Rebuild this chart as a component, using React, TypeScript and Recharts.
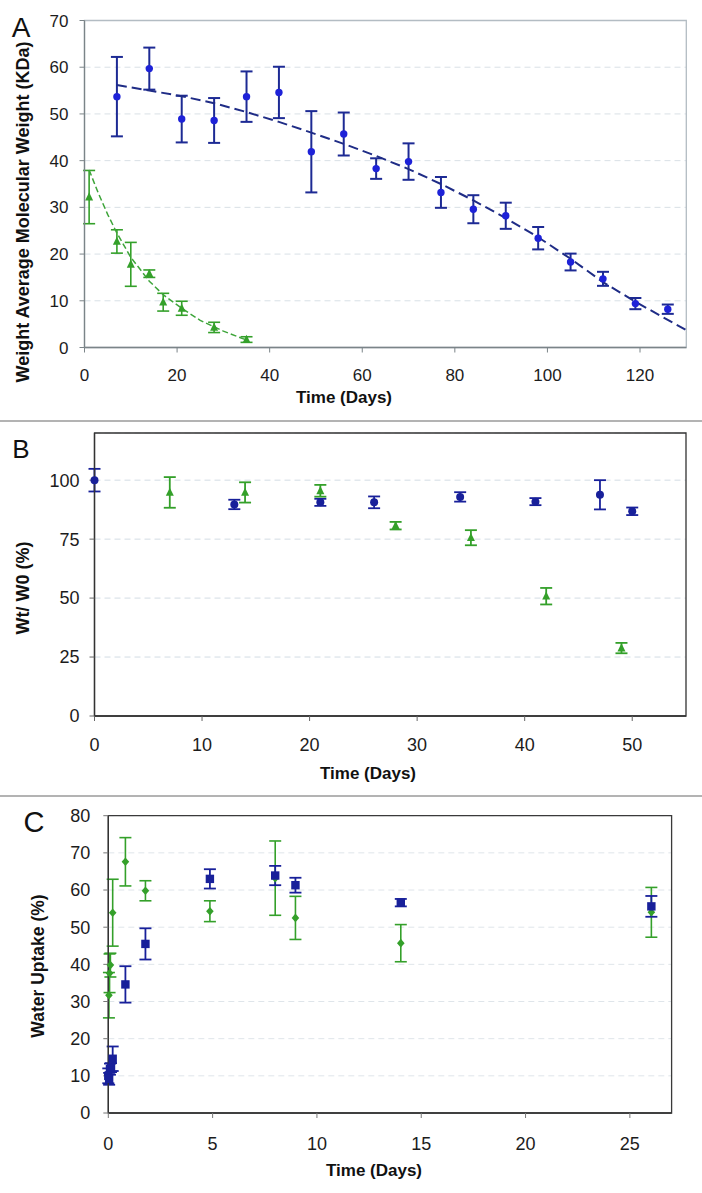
import React from "react";
import {
    ComposedChart,
    Scatter,
    XAxis,
    YAxis,
    CartesianGrid,
    ErrorBar,
    ReferenceArea,
} from "recharts";

// ── Data ─────────────────────────────────────────────────────────────────────

// A: weight average molecular weight (KDa) vs time (days)
const aBlueDays = [7, 14, 21, 28, 35, 42, 49, 56, 63, 70, 77, 84, 91, 98, 105, 112, 119, 126];
const aBlueMw = [53.7, 59.7, 48.9, 48.6, 53.7, 54.6, 41.9, 45.7, 38.3, 39.8, 33.2, 29.6, 28.2, 23.4, 18.3, 14.7, 9.4, 8.2];
const aBlueErr = [8.5, 4.5, 5.0, 4.8, 5.4, 5.5, 8.7, 4.6, 2.2, 3.9, 3.3, 3.0, 2.8, 2.4, 1.8, 1.5, 1.2, 1.0];

const aGreenDays = [1, 7, 10, 14, 17, 21, 28, 35];
const aGreenMw = [32.2, 22.7, 17.8, 15.8, 9.7, 8.4, 4.3, 1.7];
const aGreenErr = [5.7, 2.5, 4.7, 0.8, 1.9, 1.5, 1.1, 0.6];

// dashed trend lines
const aBlueTrendDays = [7, 14, 21, 28, 35, 42, 49, 56, 63, 70, 77, 84, 91, 98, 105, 112, 119, 130];
const aBlueTrendMw = [56.2, 55.0, 53.8, 52.3, 50.4, 48.3, 46.0, 43.6, 41.0, 38.2, 35.0, 31.5, 27.7, 23.6, 19.0, 14.0, 9.8, 3.7];
const aGreenTrendDays = [1, 3, 5, 7, 10, 14, 17, 21, 25, 30, 35];
const aGreenTrendMw = [38.0, 33.0, 28.5, 24.5, 19.3, 14.2, 11.3, 8.4, 5.8, 3.5, 1.6];

// B: Wt / W0 (%) vs time (days)
const bBlueDays = [0, 13, 21, 26, 34, 41, 47, 50];
const bBlueWt = [100, 89.7, 90.6, 90.6, 92.9, 90.9, 93.8, 86.8];
const bBlueErr = [4.8, 2.0, 1.5, 2.5, 2.0, 1.5, 6.2, 1.6];

const bGreenDays = [7, 14, 21, 28, 35, 42, 49];
const bGreenWt = [94.8, 94.8, 95.5, 80.7, 75.6, 50.8, 28.8];
const bGreenErr = [6.5, 4.3, 2.5, 1.6, 3.2, 3.5, 2.2];

// C: water uptake (%) vs time (days)
const cBlueDays = [0, 0.04, 0.08, 0.13, 0.21, 0.82, 1.78, 4.87, 8.0, 8.97, 14.02, 26.03];
const cBlueUptake = [10.0, 9.2, 11.8, 12.2, 14.6, 34.6, 45.5, 63.0, 63.9, 61.3, 56.6, 55.6];
const cBlueErr = [2.0, 1.6, 1.5, 1.2, 3.3, 4.9, 4.2, 2.6, 2.6, 2.0, 1.0, 2.8];

const cGreenDays = [0.03, 0.06, 0.1, 0.21, 0.82, 1.78, 4.87, 8.0, 8.97, 14.02, 26.03];
const cGreenUptake = [31.7, 37.6, 39.8, 53.9, 67.6, 59.8, 54.3, 63.2, 52.5, 45.7, 54.0];
const cGreenErr = [6.1, 5.2, 3.2, 9.0, 6.5, 2.7, 2.8, 10.0, 5.8, 5.0, 6.7];

const aXTicks = [0, 20, 40, 60, 80, 100, 120];
const aYTicks = [0, 10, 20, 30, 40, 50, 60, 70];
const bXTicks = [0, 10, 20, 30, 40, 50];
const bYTicks = [0, 25, 50, 75, 100];
const cXTicks = [0, 5, 10, 15, 20, 25];
const cYTicks = [0, 10, 20, 30, 40, 50, 60, 70, 80];

// ── Helpers ──────────────────────────────────────────────────────────────────

const FONT = "'Liberation Sans', Arial, Helvetica, sans-serif";
const BLUE = "#1e22d8";
const NAVY = "#18209a";
const GREEN = "#34a02a";

function pts(xs: number[], ys: number[], errs?: number[]) {
    return xs.map((x, i) => ({ x, y: ys[i], err: errs ? errs[i] : 0 }));
}

const circle = (fill: string, r: number) => (p: any) => (
    <circle cx={p.cx} cy={p.cy} r={r} fill={fill} />
);
const triangle = (p: any) => (
    <polygon
        points={`${p.cx},${p.cy - 4.8} ${p.cx + 4},${p.cy + 3.4} ${p.cx - 4},${p.cy + 3.4}`}
        fill={GREEN}
    />
);
const square = (p: any) => (
    <rect x={p.cx - 4.2} y={p.cy - 4.2} width={8.4} height={8.4} fill={NAVY} />
);
const diamond = (p: any) => (
    <polygon
        points={`${p.cx},${p.cy - 4.3} ${p.cx + 3.8},${p.cy} ${p.cx},${p.cy + 4.3} ${p.cx - 3.8},${p.cy}`}
        fill={GREEN}
    />
);
const nothing = () => <g />;

const tickStyle = (size: number) => ({ fontSize: size, fill: "#1c1c1c", fontFamily: FONT });

// ── Panels ───────────────────────────────────────────────────────────────────

function PanelA() {
    return (
        <ComposedChart width={702} height={421} margin={{ top: 20.5, right: 15.7, left: 0, bottom: 0 }}>
            <CartesianGrid vertical={false} stroke="#d9e0e6" strokeDasharray="6 4" />
            <ReferenceArea x1={0} x2={130} y1={0} y2={70} fill="none" stroke="#b3bcc3" strokeWidth={1.3} />
            <XAxis
                type="number"
                dataKey="x"
                domain={[0, 130]}
                ticks={aXTicks}
                height={73.5}
                tickSize={5}
                tickMargin={16}
                tick={tickStyle(17)}
                axisLine={{ stroke: "#7b8488", strokeWidth: 1.3 }}
                tickLine={{ stroke: "#7b8488" }}
            />
            <YAxis
                type="number"
                dataKey="y"
                domain={[0, 70]}
                ticks={aYTicks}
                width={84.5}
                tickSize={5}
                tickMargin={11}
                tick={tickStyle(17)}
                axisLine={{ stroke: "#7b8488", strokeWidth: 1.3 }}
                tickLine={{ stroke: "#7b8488" }}
            />
            <Scatter
                data={pts(aBlueTrendDays, aBlueTrendMw)}
                shape={nothing}
                line={{ stroke: "#1f2c86", strokeWidth: 2, strokeDasharray: "10 5" }}
                isAnimationActive={false}
            />
            <Scatter
                data={pts(aGreenTrendDays, aGreenTrendMw)}
                shape={nothing}
                line={{ stroke: "#3ea53a", strokeWidth: 1.5, strokeDasharray: "6 3" }}
                isAnimationActive={false}
            />
            <Scatter data={pts(aBlueDays, aBlueMw, aBlueErr)} shape={circle(BLUE, 3.7)} isAnimationActive={false}>
                <ErrorBar dataKey="err" direction="y" width={6} stroke="#1d2a94" strokeWidth={2} />
            </Scatter>
            <Scatter data={pts(aGreenDays, aGreenMw, aGreenErr)} shape={triangle} isAnimationActive={false}>
                <ErrorBar dataKey="err" direction="y" width={6} stroke={GREEN} strokeWidth={1.6} />
            </Scatter>
        </ComposedChart>
    );
}

function PanelB() {
    return (
        <ComposedChart width={702} height={375} margin={{ top: 12, right: 16, left: 0, bottom: 0 }}>
            <CartesianGrid vertical={false} stroke="#d3dce4" strokeDasharray="6 4" />
            <ReferenceArea x1={0} x2={55} y1={0} y2={120} fill="none" stroke="#333" strokeWidth={1.3} />
            <XAxis
                type="number"
                dataKey="x"
                domain={[0, 55]}
                ticks={bXTicks}
                height={80}
                tickSize={5}
                tickMargin={17}
                tick={tickStyle(18)}
                axisLine={{ stroke: "#333", strokeWidth: 1.3 }}
                tickLine={{ stroke: "#666" }}
            />
            <YAxis
                type="number"
                dataKey="y"
                domain={[0, 120]}
                ticks={bYTicks}
                width={94.5}
                tickSize={5}
                tickMargin={10}
                tick={tickStyle(18)}
                axisLine={{ stroke: "#333", strokeWidth: 1.3 }}
                tickLine={{ stroke: "#666" }}
            />
            <Scatter data={pts(bBlueDays, bBlueWt, bBlueErr)} shape={circle(NAVY, 4)} isAnimationActive={false}>
                <ErrorBar dataKey="err" direction="y" width={6} stroke={NAVY} strokeWidth={1.8} />
            </Scatter>
            <Scatter data={pts(bGreenDays, bGreenWt, bGreenErr)} shape={triangle} isAnimationActive={false}>
                <ErrorBar dataKey="err" direction="y" width={6} stroke={GREEN} strokeWidth={1.8} />
            </Scatter>
        </ComposedChart>
    );
}

function PanelC() {
    return (
        <ComposedChart width={702} height={396} margin={{ top: 18.7, right: 30.4, left: 0, bottom: 0 }}>
            <CartesianGrid vertical={false} stroke="#dfe5ea" strokeDasharray="6 4" />
            <ReferenceArea x1={0} x2={27} y1={0} y2={80} fill="none" stroke="#3a3a3a" strokeWidth={1.3} />
            <XAxis
                type="number"
                dataKey="x"
                domain={[0, 27]}
                ticks={cXTicks}
                height={80}
                tickSize={5}
                tickMargin={19}
                tick={tickStyle(18)}
                axisLine={{ stroke: "#333", strokeWidth: 1.3 }}
                tickLine={{ stroke: "#777" }}
            />
            <YAxis
                type="number"
                dataKey="y"
                domain={[0, 80]}
                ticks={cYTicks}
                width={108.3}
                tickSize={5}
                tickMargin={13}
                tick={tickStyle(18)}
                axisLine={{ stroke: "#333", strokeWidth: 1.3 }}
                tickLine={{ stroke: "#777" }}
            />
            <Scatter data={pts(cGreenDays, cGreenUptake, cGreenErr)} shape={diamond} isAnimationActive={false}>
                <ErrorBar dataKey="err" direction="y" width={6} stroke={GREEN} strokeWidth={1.6} />
            </Scatter>
            <Scatter data={pts(cBlueDays, cBlueUptake, cBlueErr)} shape={square} isAnimationActive={false}>
                <ErrorBar dataKey="err" direction="y" width={6} stroke={NAVY} strokeWidth={1.8} />
            </Scatter>
        </ComposedChart>
    );
}

// ── Page ─────────────────────────────────────────────────────────────────────

const titleProps = {
    fontFamily: FONT,
    fontWeight: 700,
    fill: "#111",
    textAnchor: "middle" as const,
    dominantBaseline: "central" as const,
};
const letterProps = {
    fontFamily: FONT,
    fill: "#111",
    textAnchor: "middle" as const,
    dominantBaseline: "central" as const,
};

export default function App() {
    return (
        <div style={{ position: "absolute", left: 0, top: 0, width: 702, height: 1193, background: "#fff" }}>
            <div style={{ position: "absolute", left: 0, top: 0 }}>
                <PanelA />
            </div>
            <div style={{ position: "absolute", left: 0, top: 421 }}>
                <PanelB />
            </div>
            <div style={{ position: "absolute", left: 0, top: 797 }}>
                <PanelC />
            </div>
            <svg
                width={702}
                height={1193}
                style={{ position: "absolute", left: 0, top: 0, pointerEvents: "none" }}
            >
                <line x1={0} x2={702} y1={421} y2={421} stroke="#9a9a9a" strokeWidth={1.5} />
                <line x1={0} x2={702} y1={796} y2={796} stroke="#9a9a9a" strokeWidth={1.5} />

                <text x={21} y={27} fontSize={28} {...letterProps}>A</text>
                <text x={21} y={449} fontSize={26} {...letterProps}>B</text>
                <text x={34} y={822} fontSize={29} {...letterProps}>C</text>

                <text x={344} y={397} fontSize={17} {...titleProps}>Time (Days)</text>
                <text x={368} y={773} fontSize={17} {...titleProps}>Time (Days)</text>
                <text x={374} y={1170} fontSize={17} {...titleProps}>Time (Days)</text>

                <text x={23} y={212} fontSize={18} transform="rotate(-90 23 212)" {...titleProps}>
                    Weight Average Molecular Weight (KDa)
                </text>
                <text x={23} y={588} fontSize={18} transform="rotate(-90 23 588)" {...titleProps}>
                    Wt/ W0 (%)
                </text>
                <text x={38} y={966} fontSize={17.5} transform="rotate(-90 38 966)" {...titleProps}>
                    Water Uptake (%)
                </text>
            </svg>
        </div>
    );
}
